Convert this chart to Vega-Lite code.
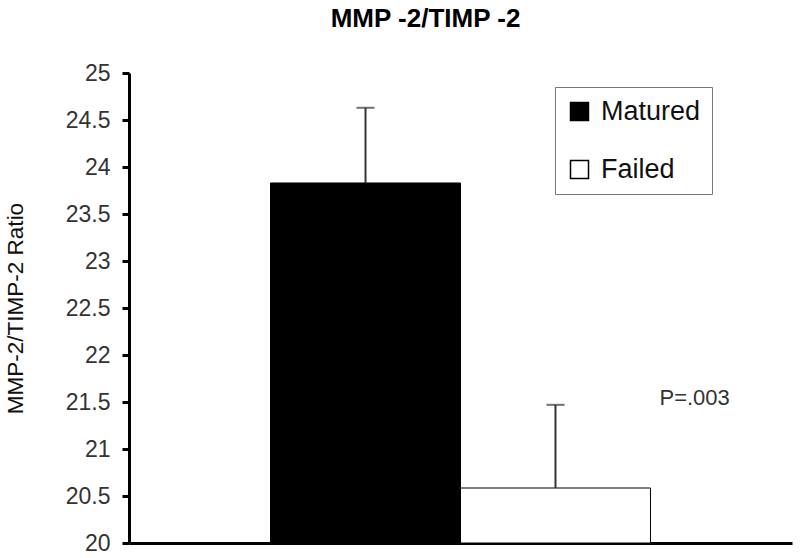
{
  "$schema": "https://vega.github.io/schema/vega-lite/v6.json",
  "autosize": {"type": "none"},
  "padding": {"left": 129, "top": 73, "right": 8, "bottom": 15},
  "width": 663,
  "height": 470,
  "background": "white",
  "config": {
    "font": "Liberation Sans",
    "view": {"stroke": null}
  },
  "title": {
    "text": "MMP -2/TIMP -2",
    "fontSize": 26,
    "fontWeight": "bold",
    "color": "black",
    "anchor": "middle",
    "dx": -35,
    "offset": 30
  },
  "datasets": {
    "groups": [
      {"group": "Matured", "ratio": 23.83, "upper": 24.63},
      {"group": "Failed", "ratio": 20.585, "upper": 21.47}
    ],
    "note": [
      {"group": "Failed", "y": 21.54, "label": "P=.003"}
    ]
  },
  "layer": [
    {
      "data": {"name": "groups"},
      "mark": {"type": "bar", "stroke": "black", "strokeWidth": 1},
      "encoding": {
        "x": {
          "field": "group",
          "type": "nominal",
          "sort": ["Matured", "Failed"],
          "scale": {"paddingInner": 0, "paddingOuter": 0.745, "align": 0.5},
          "axis": {"title": null, "labels": false, "ticks": false, "domainWidth": 3, "domainColor": "black"}
        },
        "y": {
          "field": "ratio",
          "type": "quantitative",
          "scale": {"domain": [20, 25], "zero": false, "nice": false},
          "axis": {
            "title": "MMP-2/TIMP-2 Ratio",
            "titleFontSize": 22.5,
            "titleFontWeight": "normal",
            "titleColor": "#111",
            "titlePadding": 38,
            "values": [20, 20.5, 21, 21.5, 22, 22.5, 23, 23.5, 24, 24.5, 25],
            "format": "~g",
            "labelFontSize": 23,
            "labelColor": "#333",
            "labelPadding": 12,
            "tickSize": 7,
            "tickWidth": 3,
            "tickColor": "black",
            "domainWidth": 3,
            "domainColor": "black",
            "grid": false
          }
        },
        "y2": {"datum": 20},
        "color": {
          "field": "group",
          "type": "nominal",
          "scale": {"domain": ["Matured", "Failed"], "range": ["black", "white"]},
          "legend": {
            "title": null,
            "orient": "none",
            "legendX": 426,
            "legendY": 14,
            "strokeColor": "#777",
            "padding": 11,
            "symbolType": "square",
            "symbolSize": 324,
            "symbolStrokeColor": "black",
            "symbolStrokeWidth": 1.5,
            "labelFontSize": 27,
            "labelColor": "#111",
            "labelOffset": 8,
            "rowPadding": 30,
            "labelLimit": 300
          }
        }
      }
    },
    {
      "data": {"name": "groups"},
      "mark": {"type": "rule", "color": "#333", "strokeWidth": 2},
      "encoding": {
        "x": {"field": "group", "type": "nominal", "sort": ["Matured", "Failed"]},
        "y": {"field": "ratio", "type": "quantitative"},
        "y2": {"field": "upper"}
      }
    },
    {
      "data": {"name": "groups"},
      "mark": {"type": "tick", "color": "#333", "size": 18, "thickness": 2, "orient": "horizontal"},
      "encoding": {
        "x": {"field": "group", "type": "nominal", "sort": ["Matured", "Failed"]},
        "y": {"field": "upper", "type": "quantitative"}
      }
    },
    {
      "data": {"name": "note"},
      "mark": {"type": "text", "align": "left", "baseline": "middle", "dx": 104, "fontSize": 22, "color": "#333"},
      "encoding": {
        "x": {"field": "group", "type": "nominal", "sort": ["Matured", "Failed"]},
        "y": {"field": "y", "type": "quantitative"},
        "text": {"field": "label"}
      }
    }
  ]
}
